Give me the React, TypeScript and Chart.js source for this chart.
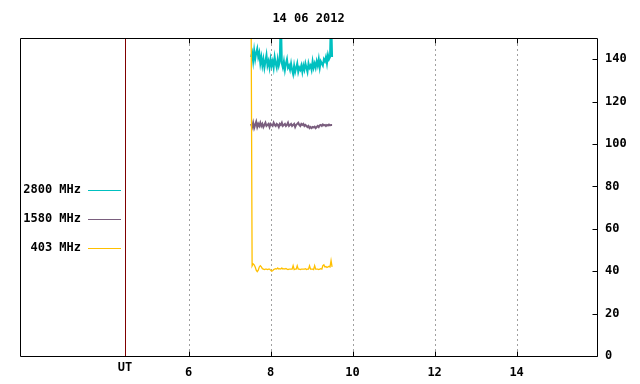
import React, { useEffect, useRef } from "react";
import { Chart, registerables } from "chart.js";

Chart.register(...registerables);

const TITLE = "14 06 2012";
const X_MIN = 1.89;
const X_MAX = 15.96;
const X_TICKS = [6, 8, 10, 12, 14];
const Y_MIN = 0;
const Y_MAX = 150;
const Y_TICKS = [0, 20, 40, 60, 80, 100, 120, 140];
const UT_TIME = 4.45;
const UT_LABEL = "UT";
const SERIES_NAMES = ["2800 MHz", "1580 MHz", "403 MHz"];
const SERIES_COLORS = ["#00c0c0", "#7a5e7e", "#ffc000"];
const UT_COLOR = "#800000";

// regular sampling of the instrument (hours UT)
const START_TIME = 7.525;
const SAMPLE_STEP = 0.025;

const flux2800 = [
  141, 143, 139, 144, 140, 143, 145, 141, 143,
  138, 141, 137, 140, 136, 139, 142, 137, 139,
  136, 140, 137, 139, 136, 141, 138, 136, 140, 137, 139,
  162,
  138, 136, 139, 135, 138, 140, 136, 137, 135, 138,
  135, 133, 137, 134, 136, 138, 134, 136, 135, 137, 134,
  137, 135, 138, 136, 134, 138, 136, 137, 135, 139, 136,
  138, 136, 139, 137, 140, 136, 139, 138, 137, 140,
  139, 141, 138, 142, 140, 141,
  162, 141,
];

const flux1580 = [
  109.5, 108, 110, 107.5, 109, 110.5, 108, 109.5, 108.5, 110,
  108.5, 109.5, 108, 109, 110, 108.5, 109, 109.5, 108, 109.5,
  109, 108.5, 110, 109, 108.5, 109.5, 109, 108, 109.5, 109,
  110, 108.5, 109, 109.5, 108.5, 109, 110, 108.5, 109, 109.5,
  108.5, 109, 109.5, 108, 109, 109.5, 110, 109, 108.5, 109.5,
  109, 109.5, 108.5, 109, 108.5, 108, 108.5, 107.5, 108, 107.5,
  108, 107.8, 108.2, 107.5, 108, 108.5, 108, 108.8, 109, 108.5,
  109.2, 108.8, 109, 108.5, 109, 108.7, 109.2, 108.8, 109, 109,
];

const flux403 = [
  165, 42.5, 43.5, 43, 42, 40.5, 39.8, 40.5, 42, 42.6,
  42, 41.2, 41, 40.8, 41, 41, 40.8, 41, 41, 40.5,
  40, 40.2, 40.8, 41, 41.2, 41, 41.5, 41, 41.2, 41,
  41.5, 41, 41.2, 41, 41.3, 41, 40.8, 41, 41, 41,
  41, 42.6, 40.8, 41, 41, 42.6, 41, 41, 40.8, 41,
  41, 41, 41, 41.2, 40.8, 41, 41, 42.6, 41, 41,
  41, 40.8, 42.6, 41, 41, 41, 40.8, 41, 41.2, 41,
  42.6, 43, 42, 42.2, 41.8, 42, 42.3, 42, 45, 42,
];

const FONT_FAMILY = "'DejaVu Sans Mono', 'Liberation Mono', monospace";

function toPoints(values: number[]) {
  return values.map((v, i) => ({ x: START_TIME + i * SAMPLE_STEP, y: v }));
}

const decorPlugin = {
  id: "decor",
  beforeDatasetsDraw(chart: any) {
    const { ctx, chartArea } = chart;
    const xs = chart.scales.x;
    ctx.save();
    ctx.strokeStyle = "#a0a0a0";
    ctx.lineWidth = 1;
    ctx.setLineDash([2, 3]);
    for (const t of X_TICKS) {
      const px = Math.round(xs.getPixelForValue(t)) + 0.5;
      ctx.beginPath();
      ctx.moveTo(px, chartArea.bottom);
      ctx.lineTo(px, chartArea.top);
      ctx.stroke();
    }
    ctx.setLineDash([]);
    // UT marker line
    const ux = Math.round(xs.getPixelForValue(UT_TIME)) + 0.5;
    ctx.strokeStyle = UT_COLOR;
    ctx.beginPath();
    ctx.moveTo(ux, chartArea.bottom);
    ctx.lineTo(ux, chartArea.top);
    ctx.stroke();
    ctx.restore();
  },
  afterDraw(chart: any) {
    const { ctx, chartArea } = chart;
    const xs = chart.scales.x;
    const ys = chart.scales.y;
    const L = chartArea.left + 0.5;
    const R = Math.round(chartArea.right) + 0.5;
    const T = chartArea.top + 0.5;
    const B = Math.round(chartArea.bottom) + 0.5;
    ctx.save();
    ctx.setLineDash([]);
    ctx.strokeStyle = "#000";
    ctx.lineWidth = 1;
    ctx.beginPath();
    ctx.rect(L, T, R - L, B - T);
    ctx.stroke();
    ctx.beginPath();
    for (const t of X_TICKS) {
      const px = Math.round(xs.getPixelForValue(t)) + 0.5;
      ctx.moveTo(px, B);
      ctx.lineTo(px, B - 5);
      ctx.moveTo(px, T);
      ctx.lineTo(px, T + 5);
    }
    for (const v of Y_TICKS) {
      const py = Math.round(ys.getPixelForValue(v)) + 0.5;
      ctx.moveTo(R, py);
      ctx.lineTo(R - 5, py);
    }
    ctx.stroke();

    ctx.fillStyle = "#000";
    ctx.font = `bold 12px ${FONT_FAMILY}`;
    ctx.textBaseline = "middle";
    ctx.textAlign = "center";
    ctx.fillText(TITLE, (chartArea.left + chartArea.right) / 2, 19);
    ctx.fillText(UT_LABEL, xs.getPixelForValue(UT_TIME), 368);
    const legendY = [190, 219, 248];
    SERIES_NAMES.forEach((name, i) => {
      ctx.textAlign = "right";
      ctx.fillStyle = "#000";
      ctx.fillText(name, 81, legendY[i]);
      ctx.strokeStyle = SERIES_COLORS[i];
      ctx.beginPath();
      ctx.moveTo(88, legendY[i] + 0.5);
      ctx.lineTo(121, legendY[i] + 0.5);
      ctx.stroke();
    });
    ctx.restore();
  },
};

export default function App() {
  const ref = useRef<HTMLCanvasElement | null>(null);

  useEffect(() => {
    document.body.style.margin = "0";
    const canvas = ref.current;
    if (!canvas) return;
    const font = { family: FONT_FAMILY, size: 12, weight: "bold" as const };
    const chart = new Chart(canvas, {
      type: "line",
      data: {
        datasets: [
          {
            label: SERIES_NAMES[2],
            data: toPoints(flux403),
            borderColor: SERIES_COLORS[2],
            borderWidth: 1.3,
            pointRadius: 0,
            tension: 0,
          },
          {
            label: SERIES_NAMES[1],
            data: toPoints(flux1580),
            borderColor: SERIES_COLORS[1],
            borderWidth: 2,
            pointRadius: 0,
            tension: 0,
          },
          {
            label: SERIES_NAMES[0],
            data: toPoints(flux2800),
            borderColor: SERIES_COLORS[0],
            borderWidth: 2,
            pointRadius: 0,
            tension: 0,
          },
        ],
      },
      options: {
        responsive: false,
        animation: false,
        events: [],
        layout: { padding: { left: 20, top: 38, right: 0, bottom: 0 } },
        plugins: {
          legend: { display: false },
          title: { display: false },
          tooltip: { enabled: false },
        },
        scales: {
          x: {
            type: "linear",
            min: X_MIN,
            max: X_MAX,
            afterBuildTicks: (s: any) => {
              s.ticks = X_TICKS.map((v) => ({ value: v }));
            },
            afterFit: (s: any) => {
              s.height = 28;
            },
            ticks: {
              font,
              color: "#000",
              padding: 10,
              maxRotation: 0,
              autoSkip: false,
              callback: (v: any) => String(v),
            },
            grid: { display: false, drawTicks: false },
            border: { display: false },
          },
          y: {
            position: "right",
            min: Y_MIN,
            max: Y_MAX,
            afterBuildTicks: (s: any) => {
              s.ticks = Y_TICKS.map((v) => ({ value: v }));
            },
            afterFit: (s: any) => {
              s.width = 43;
            },
            ticks: {
              font,
              color: "#000",
              padding: 8,
              callback: (v: any) => String(v),
            },
            grid: { display: false, drawTicks: false },
            border: { display: false },
          },
        },
      },
      plugins: [decorPlugin],
    });
    return () => chart.destroy();
  }, []);

  return (
    <div style={{ width: 640, height: 384 }}>
      <canvas ref={ref} width={640} height={384} />
    </div>
  );
}
